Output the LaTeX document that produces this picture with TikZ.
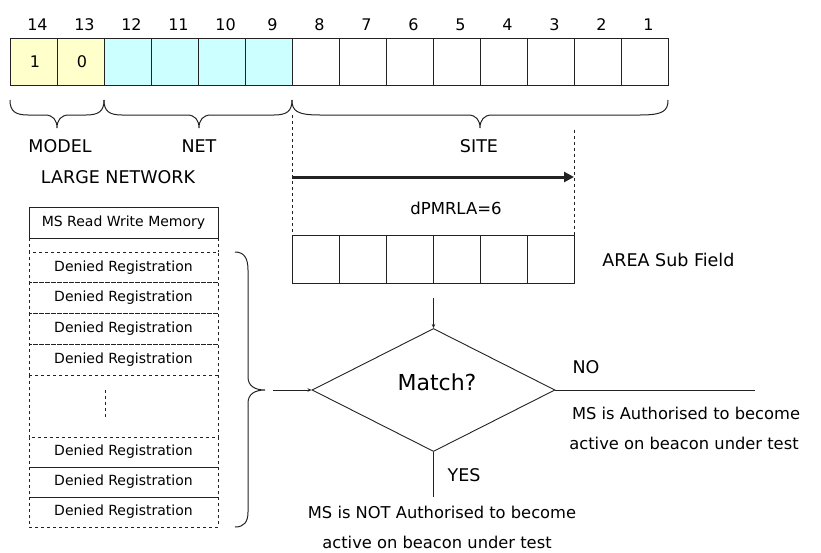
\documentclass[tikz,border=0pt]{standalone}
\usepackage{fontspec}
\setmainfont{DejaVu Sans}
\usetikzlibrary{shapes.geometric,arrows.meta}
\definecolor{lyel}{HTML}{FFFFCC}
\definecolor{lcyan}{HTML}{CCFFFF}
\definecolor{ink}{HTML}{222222}
\begin{document}
\begin{tikzpicture}[x=1pt,y=-1pt,line width=0.9pt,draw=ink,
  cell/.style={draw=ink,minimum width=47pt,minimum height=47pt,inner sep=0pt,outer sep=0pt},
  acell/.style={draw=ink,minimum width=47pt,minimum height=48pt,inner sep=0pt,outer sep=0pt},
  num/.style={font=\fontsize{16}{18}\selectfont,inner sep=0pt},
  caplbl/.style={font=\fontsize{17.5}{20}\selectfont,inner sep=0pt},
  sent/.style={font=\fontsize{16.3}{18}\selectfont,inner sep=0pt},
  tbl/.style={font=\fontsize{14}{16}\selectfont,inner sep=0pt},
  rowbox/.style={draw=ink,dashed,minimum width=189pt,inner sep=0pt,outer sep=0pt},
  bracepath/.style={draw=ink,line width=1pt},
  smallarrow/.style={-{Stealth[length=4pt,width=3.5pt]}}]
\useasboundingbox (0,0) rectangle (821,552);
% top bit fields
\foreach \i in {1,...,8} {
  \pgfmathsetmacro\cx{10+(14-\i)*47+23.5}
  \node[cell] (b\i) at (\cx,61.5) {};
}
\foreach \i in {9,...,12} {
  \pgfmathsetmacro\cx{10+(14-\i)*47+23.5}
  \node[cell,fill=lcyan] (b\i) at (\cx,61.5) {};
}
\foreach \i in {13,14} {
  \pgfmathsetmacro\cx{10+(14-\i)*47+23.5}
  \node[cell,fill=lyel] (b\i) at (\cx,61.5) {};
}
\foreach \i in {1,...,14} {
  \pgfmathsetmacro\cx{10+(14-\i)*47+27.5}
  \node[num] (n\i) at (\cx,25) {\i};
}
\node[num] (v14) at (35,62) {1};
\node[num] (v13) at (82,62) {0};
% braces
\path[bracepath] (10,100) .. controls (10,111) and (15,115) .. (28,115) -- (45,115) .. controls (53,115) and (57,120) .. (57,128) .. controls (57,120) and (61,115) .. (69,115) -- (86,115) .. controls (99,115) and (104,111) .. (104,100);
\path[bracepath] (104,100) .. controls (104,111) and (109,115) .. (122,115) -- (187,115) .. controls (195,115) and (199,120) .. (199,128) .. controls (199,120) and (203,115) .. (211,115) -- (274,115) .. controls (287,115) and (292,111) .. (292,100);
\path[bracepath] (292,100) .. controls (292,111) and (297,115) .. (320,115) -- (468,115) .. controls (476,115) and (480,120) .. (480,128) .. controls (480,120) and (484,115) .. (492,115) -- (640,115) .. controls (663,115) and (668,111) .. (668,100);
\node[caplbl] (model) at (60,146) {MODEL};
\node[caplbl] (net) at (199,146) {NET};
\node[caplbl] (large) at (118,177) {LARGE NETWORK};
\node[caplbl] (site) at (479,146) {SITE};
% area sub field
\foreach \k in {1,...,6} {
  \pgfmathsetmacro\cx{292+(\k-1)*47+23.5}
  \node[acell] (a\k) at (\cx,259) {};
}
\coordinate (dl1) at (292,115);
\coordinate (dr1) at (574.5,130);
\coordinate (dr2) at (574.5,264);
\draw[dashed,line width=0.8pt] (dl1) -- (a1.north west);
\draw[dashed,line width=0.8pt] (dr1) -- (dr2);
\coordinate (ar1) at (292,177);
\coordinate (ar2) at (574,177);
\draw[line width=3pt,-{Triangle[length=10pt,width=10pt]}] (ar1) -- (ar2);
\node[caplbl,font=\fontsize{16.5}{18}\selectfont] (dp) at (456,208) {dPMRLA=6};
\node[caplbl,anchor=west] (areal) at (602,260) {AREA Sub Field};
% decision
\node[diamond,draw=ink,minimum width=243pt,minimum height=123pt,inner sep=0pt] (dm) at (433.5,390) {};
\node[font=\fontsize{22}{24}\selectfont,inner sep=0pt] (match) at (437,382) {Match?};
\coordinate (af) at (433.5,298);
\draw[smallarrow] (af) -- (dm.north);
\coordinate (bt) at (273,390);
\draw[smallarrow] (bt) -- (dm.west);
\coordinate (noend) at (755,390);
\draw (dm.east) -- (noend);
\coordinate (yesend) at (433.5,497);
\draw (dm.south) -- (yesend);
\node[caplbl] (no) at (586,367) {NO};
\node[caplbl] (yes) at (464,475) {YES};
\node[sent] (auth1) at (686,413) {MS is Authorised to become};
\node[sent] (auth2) at (684,443) {active on beacon under test};
\node[sent] (nauth1) at (442,512) {MS is NOT Authorised to become};
\node[sent] (nauth2) at (437,542) {active on beacon under test};
% memory table
\node[draw=ink,minimum width=189pt,minimum height=31pt,inner sep=0pt,outer sep=0pt,tbl] (mem) at (123.5,222.5) {MS Read Write Memory};
\node[rowbox,minimum height=30.75pt,tbl] (r1) at (123.5,267.4) {Denied Registration};
\node[rowbox,minimum height=30.75pt,tbl] (r2) at (123.5,298.1) {Denied Registration};
\node[rowbox,minimum height=30.75pt,tbl] (r3) at (123.5,328.9) {Denied Registration};
\node[rowbox,minimum height=30.75pt,tbl] (r4) at (123.5,359.6) {Denied Registration};
\node[rowbox,minimum height=30pt,tbl] (r5) at (123.5,452) {Denied Registration};
\node[rowbox,minimum height=30pt,tbl] (r6) at (123.5,482) {Denied Registration};
\node[rowbox,minimum height=30pt,tbl] (r7) at (123.5,512) {Denied Registration};
\draw[dashed] (mem.south west) -- (r1.north west);
\draw[dashed] (mem.south east) -- (r1.north east);
\draw[dashed] (r4.south west) -- (r5.north west);
\draw[dashed] (r4.south east) -- (r5.north east);
\draw[dashed] (105,390) -- (105,418);
% vertical brace
\path[bracepath] (235,252) .. controls (244,252) and (248,258) .. (248,270) -- (248,377) .. controls (248,386) and (255,390) .. (265,390) .. controls (255,390) and (248,394) .. (248,403) -- (248,512) .. controls (248,522) and (244,527) .. (235,527);
\end{tikzpicture}
\end{document}
